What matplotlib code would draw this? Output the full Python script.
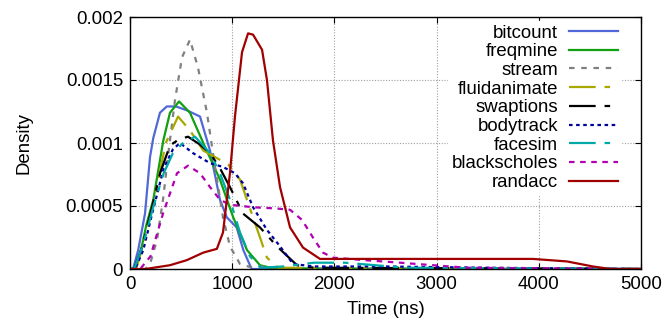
import matplotlib
matplotlib.use("Agg")
import matplotlib.pyplot as plt

plt.rcParams['font.family'] = ['Liberation Sans', 'DejaVu Sans']

names = ["bitcount", "freqmine", "stream", "fluidanimate", "swaptions",
         "bodytrack", "facesim", "blackscholes", "randacc"]

t_bitcount = [0, 30, 80, 147, 196, 228, 293, 360, 450, 555, 685, 783, 880, 947, 1044, 1109, 1190, 1400, 5000]
d_bitcount = [0, 0, 0.15, 0.44, 0.89, 1.04, 1.24, 1.29, 1.29, 1.26, 1.21, 0.94, 0.55, 0.41, 0.33, 0.15, 0.0, 0, 0]

t_freqmine = [0, 40, 100, 160, 228, 326, 391, 480, 587, 717, 880, 1010, 1145, 1272, 1400, 5000]
d_freqmine = [0, 0, 0.12, 0.35, 0.55, 1.02, 1.24, 1.33, 1.24, 1.00, 0.71, 0.41, 0.15, 0.03, 0.005, 0]

t_stream = [0, 150, 200, 264, 323, 380, 440, 509, 587, 665, 753, 832, 910, 978, 1076, 1200, 1300, 1450, 1600, 5000]
d_stream = [0, 0, 0.05, 0.23, 0.55, 0.95, 1.34, 1.68, 1.82, 1.60, 1.24, 0.81, 0.41, 0.18, 0.04, 0.01, 0.02, 0.01, 0, 0]

t_fluid = [0, 60, 150, 250, 350, 470, 587, 717, 850, 960, 1076, 1204, 1340, 1450, 5000]
d_fluid = [0, 0, 0.25, 0.6, 1.0, 1.21, 1.10, 0.94, 0.88, 0.83, 0.71, 0.41, 0.09, 0.01, 0]

t_swap = [0, 40, 120, 200, 294, 391, 480, 568, 680, 783, 880, 978, 1106, 1272, 1438, 1634, 1800, 5000]
d_swap = [0, 0, 0.18, 0.44, 0.76, 0.98, 1.03, 1.05, 0.99, 0.92, 0.80, 0.65, 0.44, 0.33, 0.18, 0.03, 0.01, 0]

t_body = [0, 50, 130, 220, 330, 420, 489, 616, 783, 910, 1027, 1106, 1204, 1340, 1468, 1595, 1800, 2500, 3500, 5000]
d_body = [0, 0, 0.15, 0.45, 0.8, 0.95, 1.0, 0.92, 0.84, 0.81, 0.76, 0.68, 0.49, 0.31, 0.18, 0.04, 0.02, 0.02, 0.01, 0]

t_face = [0, 40, 130, 230, 330, 420, 520, 636, 783, 880, 978, 1076, 1174, 1280, 1500, 1800, 2100, 2400, 2700, 5000]
d_face = [0, 0, 0.2, 0.5, 0.76, 0.92, 1.0, 1.05, 0.92, 0.76, 0.55, 0.29, 0.10, 0.01, 0.02, 0.05, 0.05, 0.03, 0.01, 0]

t_black = [0, 100, 200, 323, 460, 568, 685, 783, 880, 978, 1204, 1438, 1566, 1683, 1790, 1888, 1986, 2300, 2642, 2965, 3300, 5000]
d_black = [0, 0, 0.1, 0.44, 0.76, 0.82, 0.76, 0.65, 0.55, 0.51, 0.49, 0.48, 0.47, 0.39, 0.25, 0.13, 0.09, 0.07, 0.05, 0.03, 0.01, 0]

t_rand = [0, 150, 391, 555, 717, 850, 910, 978, 1027, 1096, 1155, 1204, 1292, 1340, 1399, 1468, 1566, 1693, 1859, 2000, 3000, 3943, 4276, 4530, 4700, 5000]
d_rand = [0, 0, 0.03, 0.07, 0.13, 0.16, 0.29, 0.76, 1.21, 1.72, 1.87, 1.86, 1.74, 1.50, 1.02, 0.65, 0.33, 0.17, 0.08, 0.08, 0.08, 0.08, 0.06, 0.02, 0, 0]

xs = [t_bitcount, t_freqmine, t_stream, t_fluid, t_swap, t_body, t_face, t_black, t_rand]
ys = [d_bitcount, d_freqmine, d_stream, d_fluid, d_swap, d_body, d_face, d_black, d_rand]

colors = ["#5068d8", "#10a010", "#808080", "#a8a800", "#000000",
          "#0000a0", "#00a8a8", "#b000b0", "#a00000"]
dashes = [None, None, (2.5, 3), (12, 4, 2.5, 4), (12, 4, 2.5, 4),
          (1.6, 1.6), (12, 4, 2.5, 4), (2.5, 2.5), None]

xticks = [0, 1000, 2000, 3000, 4000, 5000]
yticks = [0, 0.0005, 0.001, 0.0015, 0.002]
ytick_labels = ["0", "0.0005", "0.001", "0.0015", "0.002"]

FS = 13.4

fig = plt.figure(figsize=(6.67, 3.27), dpi=100)
ax = fig.add_axes([130/667, 1-269/327, (641-130)/667, (269-17)/327])

for name, x, y, c, ds in zip(names, xs, ys, colors, dashes):
    yy = [v * 1e-3 for v in y]
    line, = ax.plot(x, yy, color=c, lw=1.6, label=name)
    if ds is not None:
        line.set_dashes(ds)

ax.set_xlim(0, 5000)
ax.set_ylim(0, 0.002)
ax.set_xticks(xticks)
ax.set_xticklabels([str(v) for v in xticks])
ax.set_yticks(yticks)
ax.set_yticklabels(ytick_labels)
ax.tick_params(direction='in', top=True, right=True, labelsize=FS, length=4, width=0.8, pad=5)
ax.grid(True, color='#a0a0a0', linestyle=(0, (1, 1.5)), lw=0.8)
for s in ax.spines.values():
    s.set_linewidth(1.0)
    s.set_zorder(6)
ax.set_xlabel("Time (ns)", fontsize=FS, labelpad=6)
ax.set_ylabel("Density", fontsize=FS, labelpad=24)

leg = ax.legend(loc='upper right', bbox_to_anchor=(0.98, 1.022), markerfirst=False,
                frameon=True, fontsize=FS, handlelength=2.6, labelspacing=0.09,
                borderpad=0.2, handletextpad=0.6, fancybox=False)
leg.get_frame().set_facecolor('white')
leg.get_frame().set_edgecolor('white')
leg.get_frame().set_alpha(1.0)
leg.set_zorder(5)
for t in leg.get_texts():
    t.set_ha('right')

fig.savefig("out.png", dpi=100)
